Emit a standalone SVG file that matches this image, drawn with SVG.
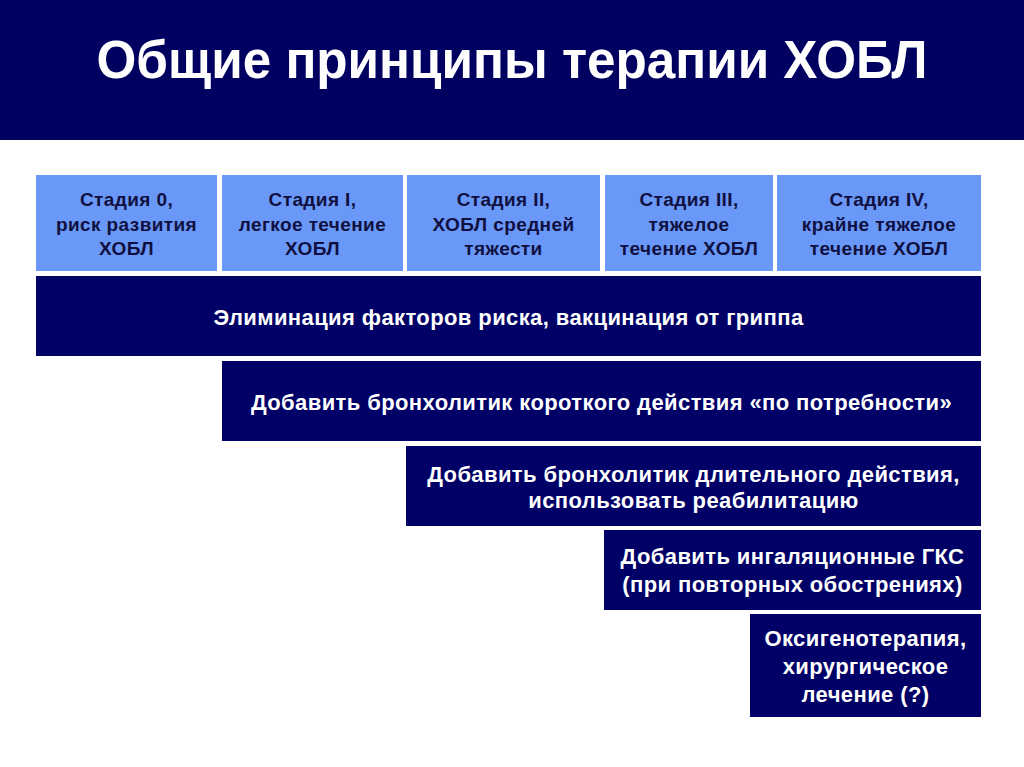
<svg xmlns="http://www.w3.org/2000/svg" width="1024" height="767" viewBox="0 0 1024 767">
<style>
.bg{fill:#ffffff}
.hdr{fill:#000060}
.stage{fill:#6a98f8}
.bar{fill:#000066}
.title{font-family:"Liberation Sans",Arial,sans-serif;font-weight:bold;font-size:53px;fill:#ffffff;text-anchor:middle}
.st{font-family:"Liberation Sans",Arial,sans-serif;font-weight:bold;font-size:19px;letter-spacing:0.4px;fill:#101040;text-anchor:middle}
.bt{font-family:"Liberation Sans",Arial,sans-serif;font-weight:bold;font-size:22px;letter-spacing:0.4px;fill:#ffffff;text-anchor:middle}
</style>
<rect class="bg" x="0" y="0" width="1024" height="767"/>
<g id="header">
<rect class="hdr" x="0" y="0" width="1024" height="140"/>
<text class="title" x="512" y="78" textLength="831" lengthAdjust="spacingAndGlyphs">Общие принципы терапии ХОБЛ</text>
</g>
<g id="stage0">
<rect class="stage" x="36" y="175" width="181" height="96"/>
<text class="st" x="126.5" y="206">Стадия 0,</text>
<text class="st" x="126.5" y="231">риск развития</text>
<text class="st" x="126.5" y="255">ХОБЛ</text>
</g>
<g id="stage1">
<rect class="stage" x="222" y="175" width="181" height="96"/>
<text class="st" x="312.5" y="206">Стадия I,</text>
<text class="st" x="312.5" y="231">легкое течение</text>
<text class="st" x="312.5" y="255">ХОБЛ</text>
</g>
<g id="stage2">
<rect class="stage" x="407" y="175" width="193" height="96"/>
<text class="st" x="503.5" y="206">Стадия II,</text>
<text class="st" x="503.5" y="231">ХОБЛ средней</text>
<text class="st" x="503.5" y="255">тяжести</text>
</g>
<g id="stage3">
<rect class="stage" x="605" y="175" width="168" height="96"/>
<text class="st" x="689" y="206">Стадия III,</text>
<text class="st" x="689" y="231">тяжелое</text>
<text class="st" x="689" y="255">течение ХОБЛ</text>
</g>
<g id="stage4">
<rect class="stage" x="777" y="175" width="204" height="96"/>
<text class="st" x="879" y="206">Стадия IV,</text>
<text class="st" x="879" y="231">крайне тяжелое</text>
<text class="st" x="879" y="255">течение ХОБЛ</text>
</g>
<g id="bar1">
<rect class="bar" x="36" y="276" width="945" height="80"/>
<text class="bt" x="508.5" y="325">Элиминация факторов риска, вакцинация от гриппа</text>
</g>
<g id="bar2">
<rect class="bar" x="222" y="361" width="759" height="80"/>
<text class="bt" x="601.5" y="410">Добавить бронхолитик короткого действия «по потребности»</text>
</g>
<g id="bar3">
<rect class="bar" x="406" y="446" width="575" height="80"/>
<text class="bt" x="693.5" y="482">Добавить бронхолитик длительного действия,</text>
<text class="bt" x="693.5" y="508">использовать реабилитацию</text>
</g>
<g id="bar4">
<rect class="bar" x="604" y="530" width="377" height="80"/>
<text class="bt" x="792.5" y="564">Добавить ингаляционные ГКС</text>
<text class="bt" x="792.5" y="592">(при повторных обострениях)</text>
</g>
<g id="bar5">
<rect class="bar" x="750" y="614" width="231" height="103"/>
<text class="bt" x="865.5" y="646">Оксигенотерапия,</text>
<text class="bt" x="865.5" y="674">хирургическое</text>
<text class="bt" x="865.5" y="702">лечение (?)</text>
</g>
</svg>
